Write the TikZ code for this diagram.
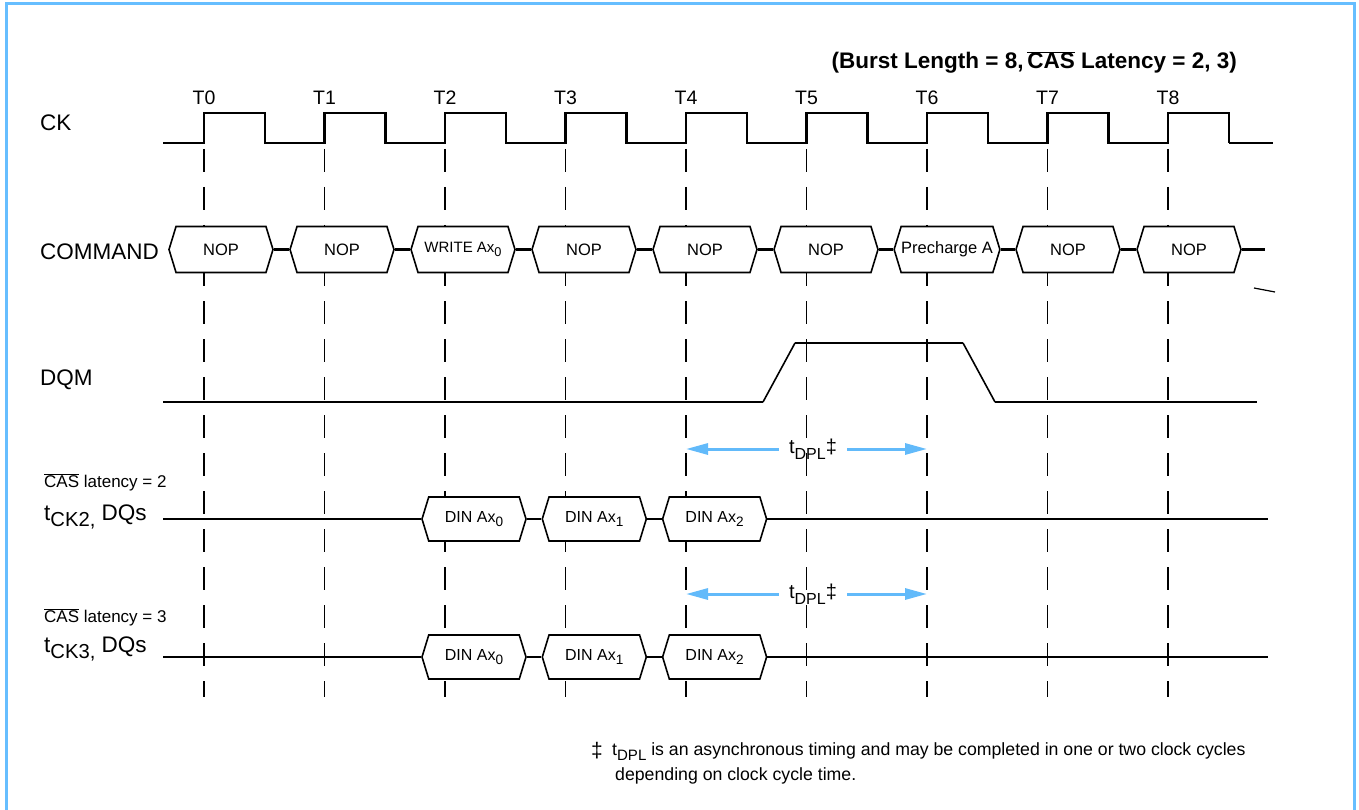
\documentclass[tikz,border=0pt]{standalone}
\usepackage{fontspec}
\usepackage{graphicx}
\setmainfont{Liberation Sans}
\usetikzlibrary{shapes.symbols,arrows.meta}
\definecolor{frameblue}{RGB}{102,190,255}
\definecolor{dplblue}{RGB}{98,186,250}
\newcommand\fs[1]{\fontsize{#1}{#1}\selectfont}
\newcommand\ovl[1]{$\overline{\hbox{#1}}$}
\newcommand\lowsub[2][0.85]{\raisebox{-0.3em}{\scalebox{#1}{#2}}}

\begin{document}
\begin{tikzpicture}[
    x=1pt,y=-1pt,
    every node/.style={inner sep=0pt},
    wave/.style={line width=2.8pt},
    tick/.style={line width=1.8pt, dash pattern=on 23pt off 15pt},
    rowlabel/.style={anchor=base west, font=\fs{22.5}},
    clklabel/.style={anchor=base, font=\fs{19.5}},
    cmdbox/.style={draw, fill=white, line width=1.6pt, signal, signal to=west and east,
        signal pointer angle=146, minimum width=104pt, minimum height=46pt, font=\fs{16.5}},
    dinbox/.style={cmdbox, minimum height=44pt, font=\fs{16}},
    dpllabel/.style={font=\fs{20}, inner xsep=10pt},
    dplarrow/.style={draw=dplblue, line width=3pt, -{Triangle[length=22pt,width=11pt]}}
]
    \useasboundingbox (0,0) rectangle (1359,810);
    \draw[frameblue, line width=3pt] (6,810) -- (6,4) -- (1354.5,4) -- (1354.5,810);

    % title and clock labels
    \node[anchor=base east, font=\fs{22.5}\bfseries] (title) at (1237,69)
        {(Burst Length = 8,\,\ovl{CAS} Latency = 2, 3)};
    \foreach \i in {0,...,8}
        \node[clklabel] (t\i) at ({204+120.5*\i},105) {T\i};

    % row labels
    \node[rowlabel] (ck) at (40,131) {CK};
    \node[rowlabel] (command) at (40,259) {COMMAND};
    \node[rowlabel] (dqm) at (40,385) {DQM};
    \node[anchor=base west, font=\fs{17}] (cas2) at (44,487) {\ovl{CAS} latency = 2};
    \node[rowlabel] (dq2) at (44,520) {t\lowsub[0.9]{CK2,} DQs};
    \node[anchor=base west, font=\fs{17}] (cas3) at (44,622) {\ovl{CAS} latency = 3};
    \node[rowlabel] (dq3) at (44,652) {t\lowsub[0.9]{CK3,} DQs};

    % clock edge markers
    \foreach \i in {0,...,8}
        \draw[tick] ({204+120.5*\i},149) -- ({204+120.5*\i},697);

    % CK
    \draw[wave] (163,143) \foreach \i in {0,...,8} {
        -- ({204+120.5*\i},143) -- ({204+120.5*\i},113)
        -- ({265+120.5*\i},113) -- ({265+120.5*\i},143)};
    \draw[line width=1.6pt] (1229,143) -- (1273,143);

    % COMMAND bus
    \foreach \i/\txt in {0/NOP, 1/NOP, 2/{\fs{15}WRITE Ax\lowsub{0}}, 3/NOP, 4/NOP,
                         5/NOP, 6/{Precharge A}, 7/NOP, 8/NOP}
        \node[cmdbox] (cmd\i) at ({221+121*\i},249.5) {\txt};
    \foreach \i [evaluate=\i as \j using int(\i+1)] in {0,...,7}
        \draw[wave] (cmd\i.east) -- (cmd\j.west);
    \coordinate (cmdend) at (1265,249.5);
    \draw[wave] (cmd8.east) -- (cmdend);
    \draw[line width=1.2pt] (1254,288) -- (1275,292);

    % DQM
    \draw[wave] (163,402) -- (763,402);
    \draw[line width=1.6pt] (763,402) -- (795,343);
    \draw[wave] (795,343) -- (963,343);
    \draw[line width=1.6pt] (963,343) -- (995,402);
    \draw[wave] (995,402) -- (1257,402);

    % tDPL, CAS latency = 2
    \node[dpllabel] (dpl2) at (813,449) {t\lowsub[0.8]{DPL}‡};
    \coordinate (dpl2a) at (686,449);
    \coordinate (dpl2b) at (927,449);
    \draw[dplarrow] (dpl2.west) -- (dpl2a);
    \draw[dplarrow] (dpl2.east) -- (dpl2b);

    % DQs, CAS latency = 2
    \coordinate (dq2start) at (163,519);
    \coordinate (dq2end) at (1268,519);
    \foreach \k/\n in {0/0, 1/1, 2/2}
        \node[dinbox] (din2\k) at ({474+120.3*\k},519) {DIN Ax\lowsub{\n}};
    \draw[wave] (dq2start) -- (din20.west);
    \draw[wave] (din20.east) -- (din21.west);
    \draw[wave] (din21.east) -- (din22.west);
    \draw[wave] (din22.east) -- (dq2end);

    % tDPL, CAS latency = 3
    \node[dpllabel] (dpl3) at (813,594) {t\lowsub[0.8]{DPL}‡};
    \coordinate (dpl3a) at (686,594);
    \coordinate (dpl3b) at (927,594);
    \draw[dplarrow] (dpl3.west) -- (dpl3a);
    \draw[dplarrow] (dpl3.east) -- (dpl3b);

    % DQs, CAS latency = 3
    \coordinate (dq3start) at (163,657);
    \coordinate (dq3end) at (1268,657);
    \foreach \k/\n in {0/0, 1/1, 2/2}
        \node[dinbox] (din3\k) at ({474+120.3*\k},657) {DIN Ax\lowsub{\n}};
    \draw[wave] (dq3start) -- (din30.west);
    \draw[wave] (din30.east) -- (din31.west);
    \draw[wave] (din31.east) -- (din32.west);
    \draw[wave] (din32.east) -- (dq3end);

    % footnote
    \node[anchor=base west, font=\fs{21}] (dagger) at (591,757) {‡};
    \node[anchor=base west, font=\fs{17.7}] (note1) at (612,755)
        {t\lowsub{DPL} is an asynchronous timing and may be completed in one or two clock cycles};
    \node[anchor=base west, font=\fs{17.7}] (note2) at (615,780)
        {depending on clock cycle time.};
\end{tikzpicture}
\end{document}
